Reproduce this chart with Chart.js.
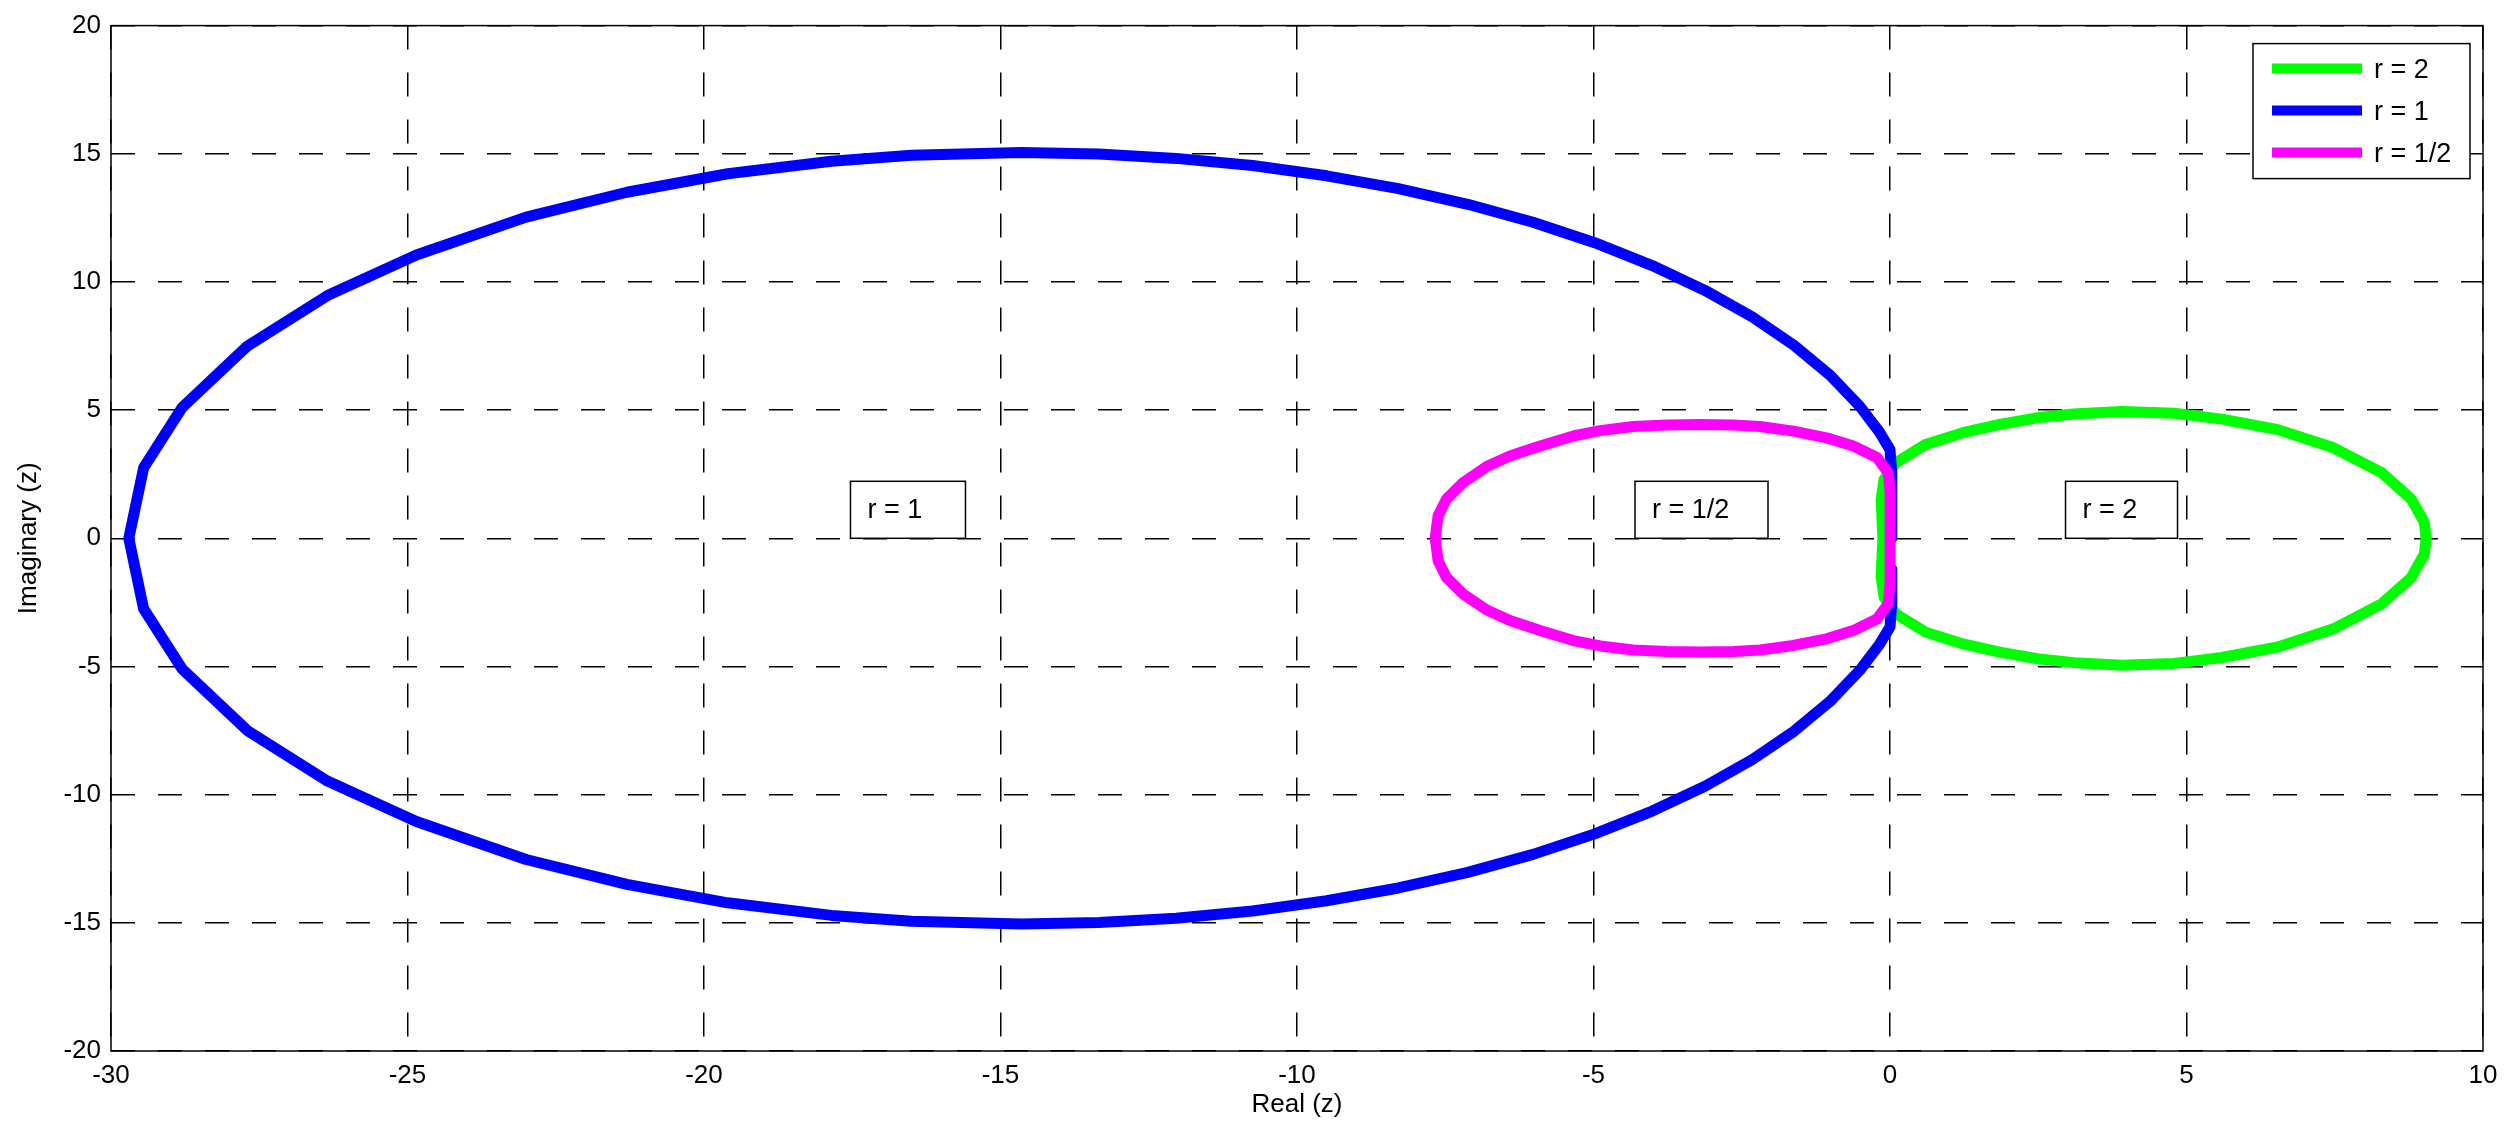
<!DOCTYPE html>
<html>
<head>
<meta charset="utf-8">
<script src="https://cdn.jsdelivr.net/npm/chart.js@4.4.1/dist/chart.umd.min.js"></script>
<style>
    html, body { margin: 0; padding: 0; background: #ffffff; }
    #wrap { width: 2509px; height: 1136px; }
</style>
</head>
<body>
<div id="wrap"><canvas id="zChart" width="2509" height="1136"></canvas></div>
<script>
// curve for r = 2
const greenX = [-0.12, -0.15, -0.1, 0.1, 0.6, 1.23, 1.85, 2.48, 3.1, 3.91, 4.79, 5.6, 6.54, 7.48, 8.29, 8.79, 9.01, 9.04,
                9.01, 8.79, 8.29, 7.48, 6.54, 5.6, 4.79, 3.91, 3.1, 2.48, 1.85, 1.23, 0.6, 0.1, -0.1, -0.15, -0.12];
const greenY = [0, 1.5, 2.3, 2.95, 3.66, 4.12, 4.44, 4.7, 4.85, 4.95, 4.88, 4.65, 4.24, 3.53, 2.56, 1.53, 0.62, 0,
                -0.62, -1.53, -2.56, -3.53, -4.24, -4.65, -4.88, -4.95, -4.85, -4.7, -4.44, -4.12, -3.66, -2.95, -2.3, -1.5, 0];

// curve for r = 1
const blueX = [0.03, 0.03, 0.03, 0, -0.18, -0.51, -1.01, -1.62, -2.32, -3.12, -4.01, -4.98, -6.02, -7.12, -8.29, -9.5, -10.75, -12.04, -13.34,
               -14.65, -16.5, -17.85, -19.6, -21.3, -23.0, -24.85, -26.35, -27.7, -28.8, -29.45, -29.7,
               -29.45, -28.8, -27.7, -26.35, -24.85, -23.0, -21.3, -19.6, -17.85, -16.5, -14.65,
               -13.34, -12.04, -10.75, -9.5, -8.29, -7.12, -6.02, -4.98, -4.01, -3.12, -2.32, -1.62, -1.01, -0.51, -0.18, 0, 0.03, 0.03];
const blueY = [0, 1.2, 2.5, 3.46, 4.15, 5.15, 6.36, 7.53, 8.63, 9.67, 10.64, 11.53, 12.33, 13.03, 13.64, 14.14, 14.54, 14.82, 14.99,
               15.05, 14.94, 14.71, 14.22, 13.5, 12.53, 11.05, 9.47, 7.5, 5.1, 2.75, 0,
               -2.75, -5.1, -7.5, -9.47, -11.05, -12.53, -13.5, -14.22, -14.71, -14.94, -15.05,
               -14.99, -14.82, -14.54, -14.14, -13.64, -13.03, -12.33, -11.53, -10.64, -9.67, -8.63, -7.53, -6.36, -5.15, -4.15, -3.46, -2.5, -1.2];

// curve for r = 1/2
const magentaX = [0, 0, -0.03, -0.22, -0.62, -1.07, -1.63, -2.19, -2.64, -3.2, -3.77, -4.33, -4.89, -5.34, -5.9, -6.41, -6.8, -7.2, -7.48, -7.62, -7.67,
                  -7.62, -7.48, -7.2, -6.8, -6.41, -5.9, -5.34, -4.89, -4.33, -3.77, -3.2, -2.64, -2.19, -1.63, -1.07, -0.62, -0.22, -0.03, 0, 0];
const magentaY = [0, 1.8, 2.56, 3.15, 3.6, 3.92, 4.18, 4.36, 4.42, 4.44, 4.42, 4.36, 4.2, 3.99, 3.6, 3.21, 2.8, 2.17, 1.53, 0.88, 0,
                  -0.88, -1.53, -2.17, -2.8, -3.21, -3.6, -3.99, -4.2, -4.36, -4.42, -4.44, -4.42, -4.36, -4.18, -3.92, -3.6, -3.15, -2.56, -1.8, 0];

const seriesLabels = ["r = 2", "r = 1", "r = 1/2"];
const xTicks = [-30, -25, -20, -15, -10, -5, 0, 5, 10];
const yTicks = [-20, -15, -10, -5, 0, 5, 10, 15, 20];

// text boxes inside the plot (anchored at their lower left corner, in data units)
const boxNotes = [
    { text: "r = 1", x: -17.53, y: 0, w: 115 },
    { text: "r = 1/2", x: -4.3, y: 0, w: 133 },
    { text: "r = 2", x: 2.96, y: 0, w: 112 }
];

const FONT = "'Liberation Sans', Arial, Helvetica, sans-serif";

function toPoints(xs, ys) {
    return xs.map((x, i) => ({ x: x, y: ys[i] }));
}

const decorPlugin = {
    id: "matlabDecor",
    afterDraw(chart) {
        const ctx = chart.ctx;
        const area = chart.chartArea;
        const xs = chart.scales.x;
        const ys = chart.scales.y;
        ctx.save();

        // frame around the axes
        ctx.setLineDash([]);
        ctx.strokeStyle = "#000";
        ctx.lineWidth = 1.5;
        ctx.strokeRect(area.left, area.top, area.right - area.left, area.bottom - area.top);

        // text boxes
        ctx.font = "27px " + FONT;
        ctx.textBaseline = "middle";
        ctx.textAlign = "left";
        boxNotes.forEach(n => {
            const left = xs.getPixelForValue(n.x);
            const bottom = ys.getPixelForValue(n.y);
            const h = 57;
            ctx.fillStyle = "#fff";
            ctx.fillRect(left, bottom - h, n.w, h);
            ctx.strokeRect(left, bottom - h, n.w, h);
            ctx.fillStyle = "#000";
            ctx.fillText(n.text, left + 17, bottom - h / 2 + 1);
        });

        // legend
        const lw = 217, lh = 135;
        const lx = area.right - 13 - lw;
        const ly = area.top + 18;
        ctx.fillStyle = "#fff";
        ctx.fillRect(lx, ly, lw, lh);
        ctx.strokeRect(lx, ly, lw, lh);
        chart.data.datasets.forEach((ds, i) => {
            const yy = ly + 25 + i * 42;
            ctx.strokeStyle = ds.borderColor;
            ctx.lineWidth = 10;
            ctx.beginPath();
            ctx.moveTo(lx + 19, yy);
            ctx.lineTo(lx + 109, yy);
            ctx.stroke();
            ctx.fillStyle = "#000";
            ctx.fillText(ds.label, lx + 121, yy + 2);
        });
        ctx.restore();
    }
};

const ctx1 = document.getElementById("zChart").getContext("2d");
window.zChart = new Chart(ctx1, {
    type: "scatter",
    data: {
        datasets: [
            { label: seriesLabels[0], data: toPoints(greenX, greenY), borderColor: "#00ff00", order: 3 },
            { label: seriesLabels[1], data: toPoints(blueX, blueY), borderColor: "#0000ff", order: 2 },
            { label: seriesLabels[2], data: toPoints(magentaX, magentaY), borderColor: "#ff00ff", order: 1 }
        ].map(d => Object.assign(d, {
            showLine: true,
            borderWidth: 11,
            pointRadius: 0,
            pointHoverRadius: 0,
            tension: 0,
            fill: false,
            borderJoinStyle: "round",
            borderCapStyle: "round"
        }))
    },
    options: {
        responsive: false,
        animation: false,
        devicePixelRatio: 1,
        layout: { padding: { top: 21, right: 26, left: 0, bottom: 0 } },
        plugins: {
            legend: { display: false },
            tooltip: { enabled: false }
        },
        scales: {
            x: {
                type: "linear",
                min: -30,
                max: 10,
                afterBuildTicks: s => { s.ticks = xTicks.map(v => ({ value: v })); },
                afterFit: s => { s.height = 85; },
                ticks: { color: "#000", font: { family: FONT, size: 26 }, padding: 9, maxRotation: 0 },
                grid: { color: "#000", lineWidth: 1.5, drawTicks: false },
                border: { display: false, dash: [24, 23] },
                title: { display: true, text: "Real (z)", color: "#000", font: { family: FONT, size: 26 }, padding: { top: 0, bottom: 16 } }
            },
            y: {
                type: "linear",
                min: -20,
                max: 20,
                afterBuildTicks: s => { s.ticks = yTicks.map(v => ({ value: v })); },
                afterFit: s => { s.width = 111; },
                ticks: { color: "#000", font: { family: FONT, size: 26 }, padding: 10 },
                grid: { color: "#000", lineWidth: 1.5, drawTicks: false },
                border: { display: false, dash: [24, 23] },
                title: { display: true, text: "Imaginary (z)", color: "#000", font: { family: FONT, size: 26 }, padding: { top: 13, bottom: 0 } }
            }
        }
    },
    plugins: [decorPlugin]
});
</script>
</body>
</html>
